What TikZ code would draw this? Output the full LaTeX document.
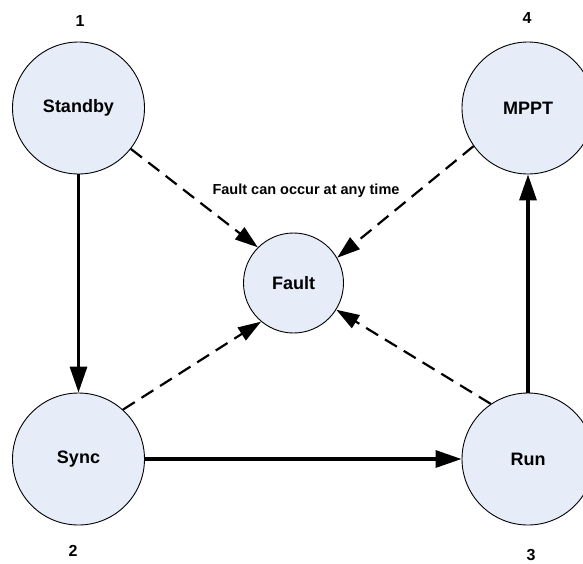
\documentclass[tikz,border=0pt]{standalone}
\usepackage{fontspec}
\setmainfont{Liberation Sans}
\usetikzlibrary{arrows.meta}
\definecolor{statefill}{RGB}{230,236,248}
\tikzset{
  state/.style={circle, draw=black, line width=0.9pt, fill=statefill,
    minimum size=132pt, inner sep=0pt,
    font=\fontsize{18}{20}\selectfont\bfseries},
  faultstate/.style={state, minimum size=100pt},
  numlabel/.style={font=\fontsize{16}{18}\selectfont\bfseries, inner sep=0pt},
  note/.style={font=\fontsize{14.5}{16}\selectfont\bfseries, inner sep=0pt},
  transition/.style={line width=3.2pt, -{Triangle[length=26pt,width=17pt]}},
  faultlink/.style={line width=2.2pt, dash pattern=on 14pt off 8pt,
    -{Triangle[length=23pt,width=15pt]}},
}
\begin{document}
\begin{tikzpicture}[x=1pt,y=-1pt]
  \useasboundingbox (0,0) rectangle (583,563);
  \clip (0,0) rectangle (583,563);

  % states
  \node[state] (standby) at (78.5,108) {Standby};
  \node[state] (mppt)    at (528,108)  {MPPT};
  \node[state] (sync)    at (78.5,459) {Sync};
  \node[state] (run)     at (528,459)  {Run};
  \node[faultstate] (fault) at (293.5,283) {Fault};

  % state numbers
  \node[numlabel] (n1) at (80,21)  {1};
  \node[numlabel] (n2) at (73,551) {2};
  \node[numlabel] (n3) at (531,555) {3};
  \node[numlabel] (n4) at (527,18) {4};

  \node[note] (faultnote) at (306,191) {Fault can occur at any time};

  % normal sequence
  \draw[transition] (standby.south) -- (sync.north);
  \draw[transition] (sync.east) -- (run.west);
  \draw[transition] (run.north) -- (mppt.south);

  % fault transitions
  \draw[faultlink] (standby.-38.5) -- (fault.135.4);
  \draw[faultlink] (mppt.-145) -- (fault.30.9);
  \draw[faultlink] (sync.48.3) -- (fault.-130.7);
  \draw[faultlink] (run.124.6) -- (fault.-32.8);
\end{tikzpicture}
\end{document}
